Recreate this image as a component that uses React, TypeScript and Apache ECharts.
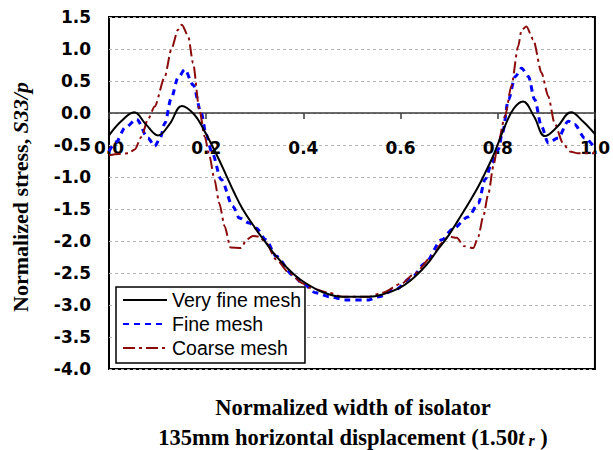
import React, { useEffect, useRef } from "react";
import * as echarts from "echarts";

const seriesNames = ["Very fine mesh", "Fine mesh", "Coarse mesh"];

const veryFine: number[][] = [
  [0, -0.35], [0.025, -0.13], [0.052, 0.01], [0.075, -0.17], [0.101, -0.35],
  [0.125, -0.17], [0.15, 0.11], [0.175, -0.02], [0.195, -0.26], [0.222, -0.66],
  [0.241, -0.97], [0.258, -1.25], [0.275, -1.5], [0.3, -1.79], [0.323, -2.03],
  [0.343, -2.23], [0.364, -2.4], [0.385, -2.55], [0.405, -2.66], [0.44, -2.8],
  [0.48, -2.87], [0.535, -2.87], [0.565, -2.83], [0.596, -2.74], [0.62, -2.62],
  [0.644, -2.45], [0.66, -2.31], [0.678, -2.12], [0.7, -1.9], [0.719, -1.67],
  [0.74, -1.41], [0.76, -1.15], [0.775, -0.92], [0.79, -0.68], [0.803, -0.43],
  [0.815, -0.2], [0.833, 0.07], [0.852, 0.18], [0.875, -0.06], [0.897, -0.36],
  [0.922, -0.22], [0.951, 0.01], [0.975, -0.13], [1.0, -0.33],
];

const fine: number[][] = [
  [0, -0.6], [0.015, -0.45], [0.033, -0.23], [0.057, -0.1], [0.08, -0.39],
  [0.094, -0.52], [0.105, -0.4], [0.115, -0.16], [0.128, 0.23], [0.142, 0.55],
  [0.156, 0.68], [0.173, 0.44], [0.19, 0.0], [0.2, -0.34], [0.212, -0.62],
  [0.231, -1.04], [0.255, -1.46], [0.268, -1.64], [0.289, -1.72], [0.303, -1.8],
  [0.323, -1.98], [0.344, -2.24], [0.378, -2.53], [0.398, -2.66], [0.426, -2.81],
  [0.453, -2.87], [0.487, -2.92], [0.535, -2.92], [0.555, -2.87], [0.589, -2.76],
  [0.623, -2.57], [0.65, -2.35], [0.685, -1.98], [0.706, -1.82], [0.74, -1.62],
  [0.76, -1.41], [0.774, -1.04], [0.788, -0.78], [0.801, -0.57], [0.81, -0.3],
  [0.822, 0.21], [0.836, 0.57], [0.849, 0.7], [0.863, 0.57], [0.876, 0.21],
  [0.89, -0.21], [0.904, -0.47], [0.924, -0.39], [0.945, -0.13], [0.958, -0.18],
  [0.979, -0.39], [1.0, -0.55],
];

const coarse: number[][] = [
  [0, -0.66], [0.02, -0.64], [0.04, -0.63], [0.053, -0.57], [0.067, -0.37],
  [0.08, -0.1], [0.094, 0.1], [0.115, 0.57], [0.128, 0.99], [0.142, 1.3],
  [0.15, 1.38], [0.163, 1.2], [0.173, 0.78], [0.186, 0.05], [0.197, -0.37],
  [0.207, -0.68], [0.217, -1.04], [0.227, -1.41], [0.238, -1.77], [0.25, -2.1],
  [0.272, -2.11], [0.283, -1.98], [0.296, -1.92], [0.309, -1.93], [0.323, -2.03],
  [0.344, -2.29], [0.371, -2.5], [0.398, -2.66], [0.412, -2.73], [0.453, -2.81],
  [0.48, -2.87], [0.535, -2.87], [0.562, -2.81], [0.603, -2.66], [0.63, -2.5],
  [0.665, -2.24], [0.685, -2.03], [0.698, -1.93], [0.716, -1.95], [0.73, -2.08],
  [0.75, -2.11], [0.76, -1.93], [0.77, -1.62], [0.781, -1.25], [0.791, -0.83],
  [0.8, -0.5], [0.815, -0.05], [0.828, 0.42], [0.842, 1.04], [0.849, 1.3],
  [0.859, 1.35], [0.873, 1.15], [0.89, 0.63], [0.904, 0.26], [0.917, -0.16],
  [0.934, -0.47], [0.948, -0.6], [0.965, -0.63], [1.0, -0.63],
];

const xTitle1 = "Normalized width of isolator";
const xTitle2 = "135mm horizontal displacement (1.50{i|t}{sub| r}{n| )}";
const yTitle = "Normalized stress, {i|S33/p}";

const serif = '"Liberation Serif", "Times New Roman", serif';
const sans = '"Liberation Sans", Arial, sans-serif';
const tickFont = '"DejaVu Sans", sans-serif';

export default function App() {
  const ref = useRef<HTMLDivElement>(null);
  useEffect(() => {
    if (!ref.current) return;
    document.body.style.margin = "0";
    const chart = echarts.init(ref.current, undefined, { renderer: "svg" });
    const fmt = (v: number) => v.toFixed(1);
    chart.setOption({
      animation: false,
      backgroundColor: "#fff",
      grid: {
        left: 109,
        right: 16,
        top: 17,
        bottom: 81,
        show: true,
        borderColor: "#000",
        borderWidth: 2,
        backgroundColor: "transparent",
      },
      xAxis: {
        type: "value",
        min: 0,
        max: 1,
        interval: 0.2,
        position: "bottom",
        offset: -256,
        axisLine: { onZero: false, lineStyle: { color: "#3a3a3a", width: 1.5 } },
        axisTick: { show: true, length: 6, lineStyle: { color: "#3a3a3a", width: 1.5 } },
        axisLabel: {
          margin: 26,
          formatter: fmt,
          fontFamily: tickFont,
          fontWeight: "bold",
          fontSize: 17,
          color: "#000",
        },
        splitLine: { show: false },
      },
      yAxis: {
        type: "value",
        min: -4,
        max: 1.5,
        interval: 0.5,
        axisLine: { show: false },
        axisTick: { show: false },
        axisLabel: {
          margin: 18,
          formatter: fmt,
          fontFamily: tickFont,
          fontWeight: "bold",
          fontSize: 17,
          color: "#000",
        },
        splitLine: { show: true, lineStyle: { type: [3, 3], color: "#b4b4b4", width: 1 } },
      },
      legend: {
        data: seriesNames,
        orient: "vertical",
        left: 116,
        top: 287,
        backgroundColor: "#fff",
        borderColor: "#000",
        borderWidth: 1.5,
        borderRadius: 0,
        padding: [3, 4, 5, 6],
        itemWidth: 44,
        itemHeight: 14,
        itemGap: 4,
        itemStyle: { color: "rgba(0,0,0,0)", borderColor: "rgba(0,0,0,0)", borderWidth: 0, opacity: 0 },
        textStyle: { fontFamily: sans, fontSize: 19.5, color: "#000", lineHeight: 20 },
      },
      graphic: [
        {
          type: "text",
          x: 20,
          y: 197,
          rotation: Math.PI / 2,
          style: {
            text: yTitle,
            fontFamily: serif,
            fontWeight: "bold",
            fontSize: 22,
            fill: "#000",
            align: "center",
            verticalAlign: "middle",
            rich: {
              i: { fontFamily: serif, fontWeight: "bold", fontStyle: "italic", fontSize: 22, fill: "#000" },
            },
          },
        },
        {
          type: "text",
          x: 353,
          y: 407,
          style: {
            text: xTitle1,
            fontFamily: serif,
            fontWeight: "bold",
            fontSize: 22.5,
            fill: "#000",
            align: "center",
            verticalAlign: "middle",
          },
        },
        {
          type: "text",
          x: 353,
          y: 437,
          style: {
            text: xTitle2,
            fontFamily: serif,
            fontWeight: "bold",
            fontSize: 22.5,
            fill: "#000",
            align: "center",
            verticalAlign: "middle",
            rich: {
              i: { fontFamily: serif, fontWeight: "bold", fontStyle: "italic", fontSize: 22.5, fill: "#000" },
              sub: { fontFamily: serif, fontWeight: "bold", fontStyle: "italic", fontSize: 16, fill: "#000", padding: [6, 0, 0, 0] },
              n: { fontFamily: serif, fontWeight: "bold", fontSize: 22.5, fill: "#000" },
            },
          },
        },
      ],
      series: [
        {
          name: seriesNames[0],
          type: "line",
          data: veryFine,
          symbol: "none",
          showSymbol: false,
          smooth: 0.4,
          lineStyle: { color: "#000", width: 2 },
          itemStyle: { color: "#000" },
          z: 4,
        },
        {
          name: seriesNames[1],
          type: "line",
          data: fine,
          symbol: "none",
          showSymbol: false,
          smooth: 0.3,
          smoothMonotone: "x",
          lineStyle: { color: "#0000ff", width: 3, type: [6, 5] },
          itemStyle: { color: "#0000ff" },
          z: 3,
        },
        {
          name: seriesNames[2],
          type: "line",
          data: coarse,
          symbol: "none",
          showSymbol: false,
          smooth: 0.25,
          smoothMonotone: "x",
          lineStyle: { color: "#8b0a0a", width: 2, type: [12, 4, 3, 4] },
          itemStyle: { color: "#8b0a0a" },
          z: 3,
        },
      ],
    });
    return () => chart.dispose();
  }, []);
  return <div ref={ref} style={{ width: 613, height: 450 }} />;
}
